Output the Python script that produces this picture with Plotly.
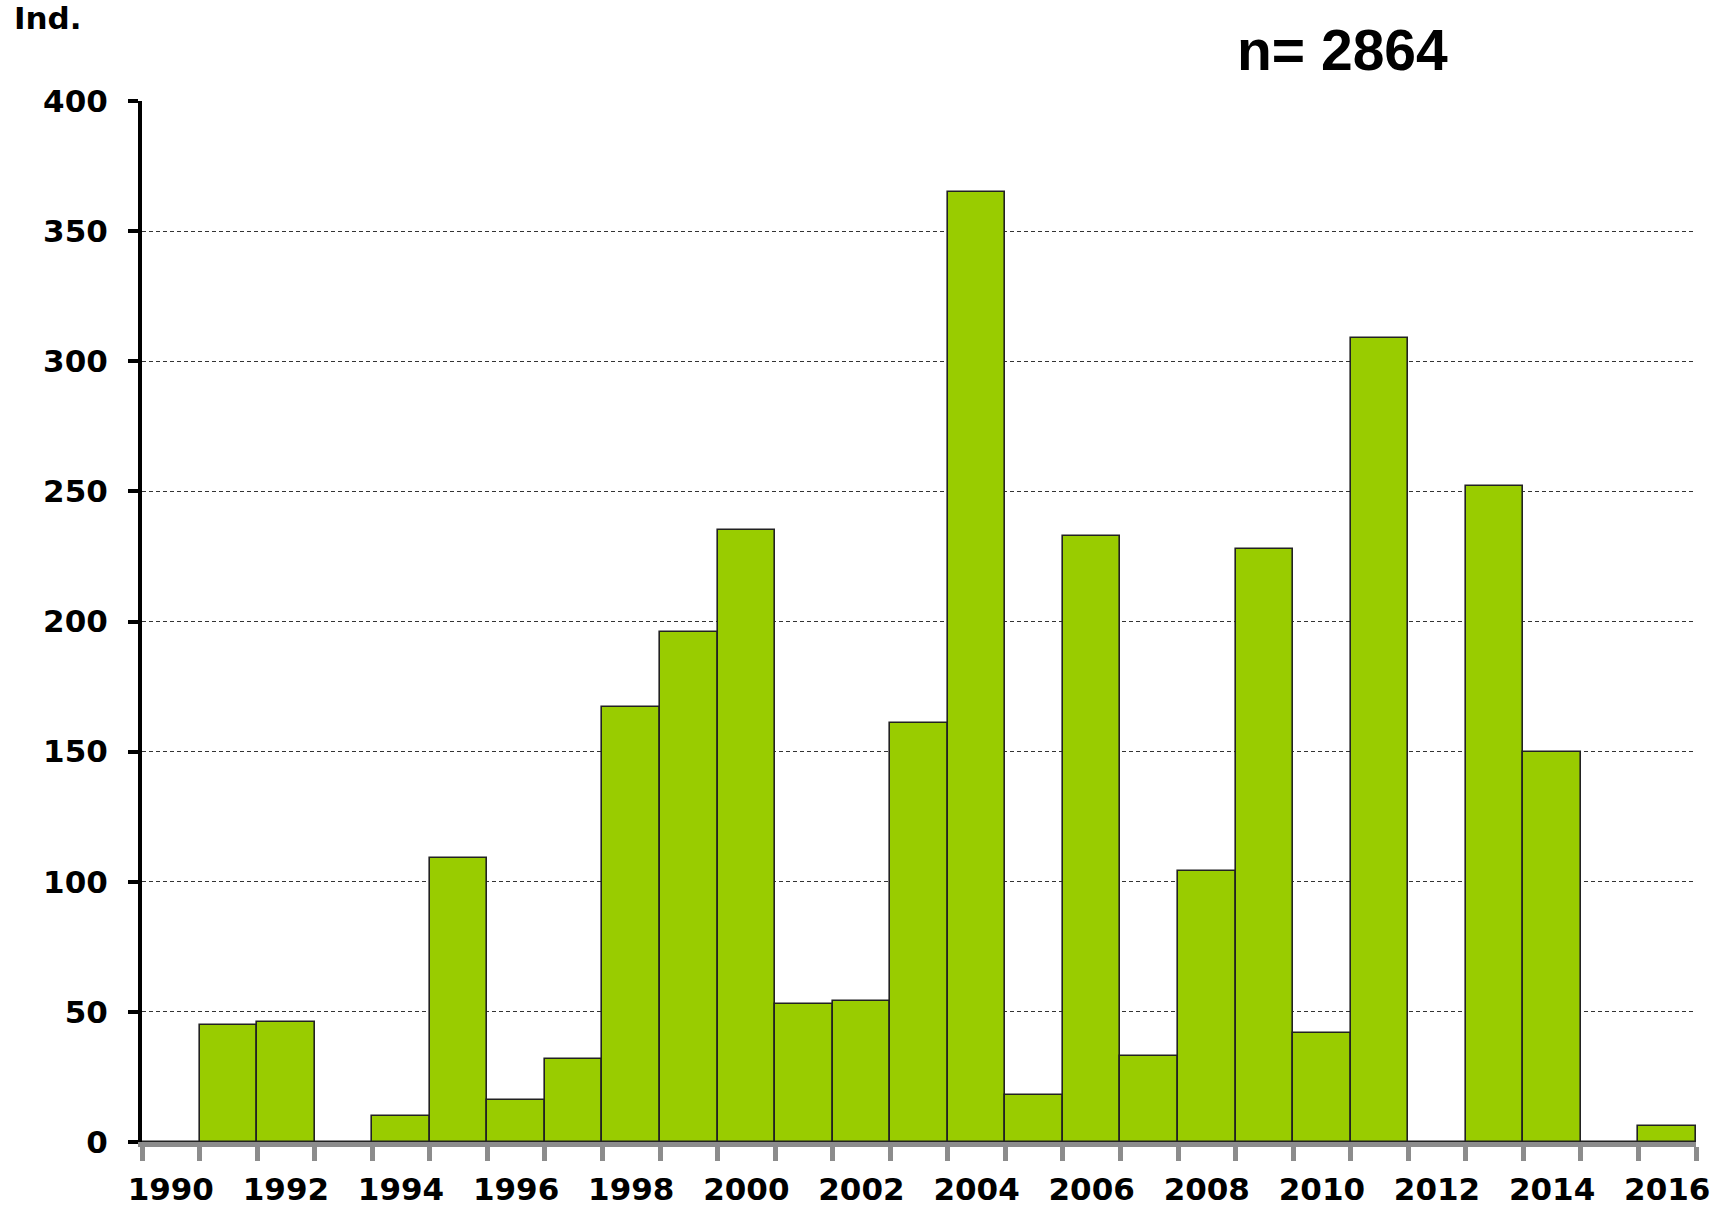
import plotly.graph_objects as go

# Yearly counts of individuals, 1990-2016
years = list(range(1990, 2017))
counts = [0, 45, 46, 0, 10, 109, 16, 32, 167, 196, 235, 53, 54, 161, 365,
          18, 233, 33, 104, 228, 42, 309, 0, 252, 150, 0, 6]
label_years = years[::2]
total_label = "n= 2864"
y_label = "Ind."

BAR_GREEN = "#99CC00"
AXIS_GREY = "#8c8c8c"
X_TICK_FONT = dict(family="DejaVu Sans", size=31, color="black", weight="bold")
Y_TICK_FONT = dict(family="DejaVu Sans", size=31, color="black", weight="bold")

# plot-area geometry in pixels
L, R, T, B = 142, 33, 101, 68
PW, PH = 1729 - L - R, 1210 - T - B

fig = go.Figure(
    go.Bar(
        x=years,
        y=counts,
        width=1,
        marker=dict(color=BAR_GREEN, line=dict(color="#222222", width=1.6)),
        hoverinfo="x+y",
    )
)

fig.update_layout(
    width=1729,
    height=1210,
    margin=dict(l=L, r=R, t=T, b=B, autoexpand=False),
    paper_bgcolor="white",
    plot_bgcolor="white",
    showlegend=False,
    bargap=0,
)

fig.update_xaxes(
    type="linear",
    automargin=False,
    range=[years[0] - 0.5, years[-1] + 0.5],
    tickmode="array",
    tickvals=label_years,
    ticktext=[str(y) for y in label_years],
    ticks="",
    ticklabelstandoff=16,
    tickfont=X_TICK_FONT,
    showgrid=False,
    zeroline=False,
    showline=True,
    linecolor=AXIS_GREY,
    linewidth=5,
    minor=dict(
        tickmode="array",
        tickvals=[y - 0.5 for y in years] + [years[-1] + 0.5],
        ticks="outside",
        ticklen=14,
        tickwidth=5,
        tickcolor=AXIS_GREY,
        showgrid=False,
    ),
)

fig.update_yaxes(
    automargin=False,
    range=[0, 400],
    tickmode="linear",
    tick0=0,
    dtick=50,
    ticks="outside",
    ticklen=10,
    tickwidth=4,
    tickcolor="black",
    ticklabelstandoff=14,
    tickfont=Y_TICK_FONT,
    showline=True,
    linecolor="black",
    linewidth=4,
    showgrid=True,
    gridcolor="#333333",
    gridwidth=1,
    griddash="4px,3px",
    zeroline=False,
)

fig.add_annotation(
    text=y_label, xref="paper", yref="paper",
    x=(12 - L) / PW, y=(1210 - B - 18) / PH,
    xanchor="left", yanchor="middle", showarrow=False,
    font=dict(family="DejaVu Sans", size=31, color="black", weight="bold"),
)
fig.add_annotation(
    text=total_label, xref="paper", yref="paper",
    x=(1342 - L) / PW, y=(1210 - B - 50) / PH,
    xanchor="center", yanchor="middle", showarrow=False,
    font=dict(family="Liberation Sans", size=57, color="black", weight="bold"),
)

fig.write_html("out.html")
